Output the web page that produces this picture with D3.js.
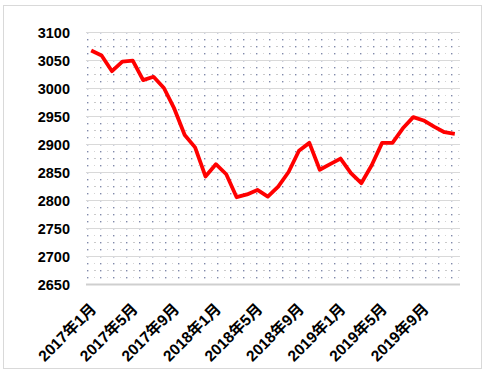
<!DOCTYPE html>
<html>
<head>
<meta charset="utf-8">
<script src="https://cdn.jsdelivr.net/npm/d3@7"></script>
<style>
  body { margin: 0; background: #fff; }
  #graph-container { width: 485px; height: 373px; }
  .tick-label { font-family: "Liberation Sans", "Noto Sans CJK SC", sans-serif; font-weight: bold; fill: #000; }
</style>
</head>
<body>
<div id="graph-container"></div>
<script>
// monthly values, 2017-01 .. 2019-12
var months = [];
["2017", "2018", "2019"].forEach(function(yr) {
  for (var m = 1; m <= 12; m++) months.push(yr + "年" + m + "月");
});

var values2017 = [3067, 3058, 3030, 3047, 3049, 3014, 3020, 3000, 2963, 2916, 2894, 2842];
var values2018 = [2864, 2846, 2805, 2810, 2818, 2806, 2824, 2850, 2888, 2902, 2854, 2864];
var values2019 = [2874, 2848, 2830, 2862, 2902, 2902, 2928, 2948, 2942, 2931, 2921, 2918];
var values = values2017.concat(values2018, values2019);

var yTicks = [2650, 2700, 2750, 2800, 2850, 2900, 2950, 3000, 3050, 3100];
var xLabelEvery = 4;

var svg, x, y, margin, width, height;

function setup() {
  margin = {top: 32, right: 25, bottom: 89, left: 86};
  width = 485 - margin.left - margin.right;
  height = 373 - margin.top - margin.bottom;

  var root = d3.select("#graph-container").append("svg")
    .attr("width", 485)
    .attr("height", 373);

  // outer frame
  root.append("rect")
    .attr("x", 3.5).attr("y", 5.5)
    .attr("width", 478).attr("height", 363)
    .attr("fill", "#fff")
    .attr("stroke", "#d9d9d9");

  // dotted background pattern
  var pat = root.append("defs").append("pattern")
    .attr("id", "dots")
    .attr("patternUnits", "userSpaceOnUse")
    .attr("x", margin.left).attr("y", margin.top)
    .attr("width", 13).attr("height", 14);
  pat.append("rect").attr("x", 6).attr("y", 3).attr("width", 1.4).attr("height", 1.4).attr("fill", "#8088aa");
  pat.append("rect").attr("x", 6).attr("y", 10).attr("width", 1.4).attr("height", 1.4).attr("fill", "#8088aa");
  pat.append("rect").attr("x", 0).attr("y", 10).attr("width", 2).attr("height", 1).attr("fill", "#cacaca");
  pat.append("rect").attr("x", 0).attr("y", 3).attr("width", 1).attr("height", 1).attr("fill", "#d4d4d4");

  svg = root.append("g")
    .attr("transform", "translate(" + margin.left + "," + margin.top + ")");

  x = d3.scaleBand().domain(months).range([0, width]);
  y = d3.scaleLinear().domain([2650, 3100]).range([height, 0]);
}

function draw() {
  svg.append("rect")
    .attr("width", width).attr("height", height)
    .attr("fill", "url(#dots)");

  // horizontal grid lines
  svg.selectAll(".grid").data(yTicks).enter().append("line")
    .attr("x1", 0).attr("x2", width)
    .attr("y1", function(d) { return Math.round(y(d)) + 0.5; })
    .attr("y2", function(d) { return Math.round(y(d)) + 0.5; })
    .attr("stroke", function(d) { return d === 2650 ? "#cfcfcf" : "#d9d9d9"; })
    .attr("stroke-width", function(d) { return d === 2650 ? 1.8 : 1.2; });

  // y axis labels
  var yAxis = svg.append("g")
    .call(d3.axisLeft(y).tickValues(yTicks).tickFormat(d3.format("d")).tickSize(0).tickPadding(16));
  yAxis.select(".domain").remove();
  yAxis.selectAll("text").attr("class", "tick-label").style("font-size", "14.5px").attr("dy", "0.35em");

  // x axis labels, rotated
  var xAxis = svg.append("g")
    .attr("transform", "translate(0," + height + ")")
    .call(d3.axisBottom(x)
      .tickValues(months.filter(function(d, i) { return i % xLabelEvery === 0; }))
      .tickSize(0).tickPadding(0));
  xAxis.select(".domain").remove();
  xAxis.selectAll("text")
    .attr("class", "tick-label")
    .style("font-size", "15.5px")
    .attr("text-anchor", "end")
    .attr("dy", "0")
    .attr("transform", "translate(6,26) rotate(-45)");

  // the line
  var line = d3.line()
    .x(function(d, i) { return x(months[i]) + x.bandwidth() / 2; })
    .y(function(d) { return y(d); });

  svg.append("path")
    .datum(values)
    .attr("fill", "none")
    .attr("stroke", "#ff0000")
    .attr("stroke-width", 3.8)
    .attr("stroke-linejoin", "round")
    .attr("d", line);
}

setup();
draw();
</script>
</body>
</html>
